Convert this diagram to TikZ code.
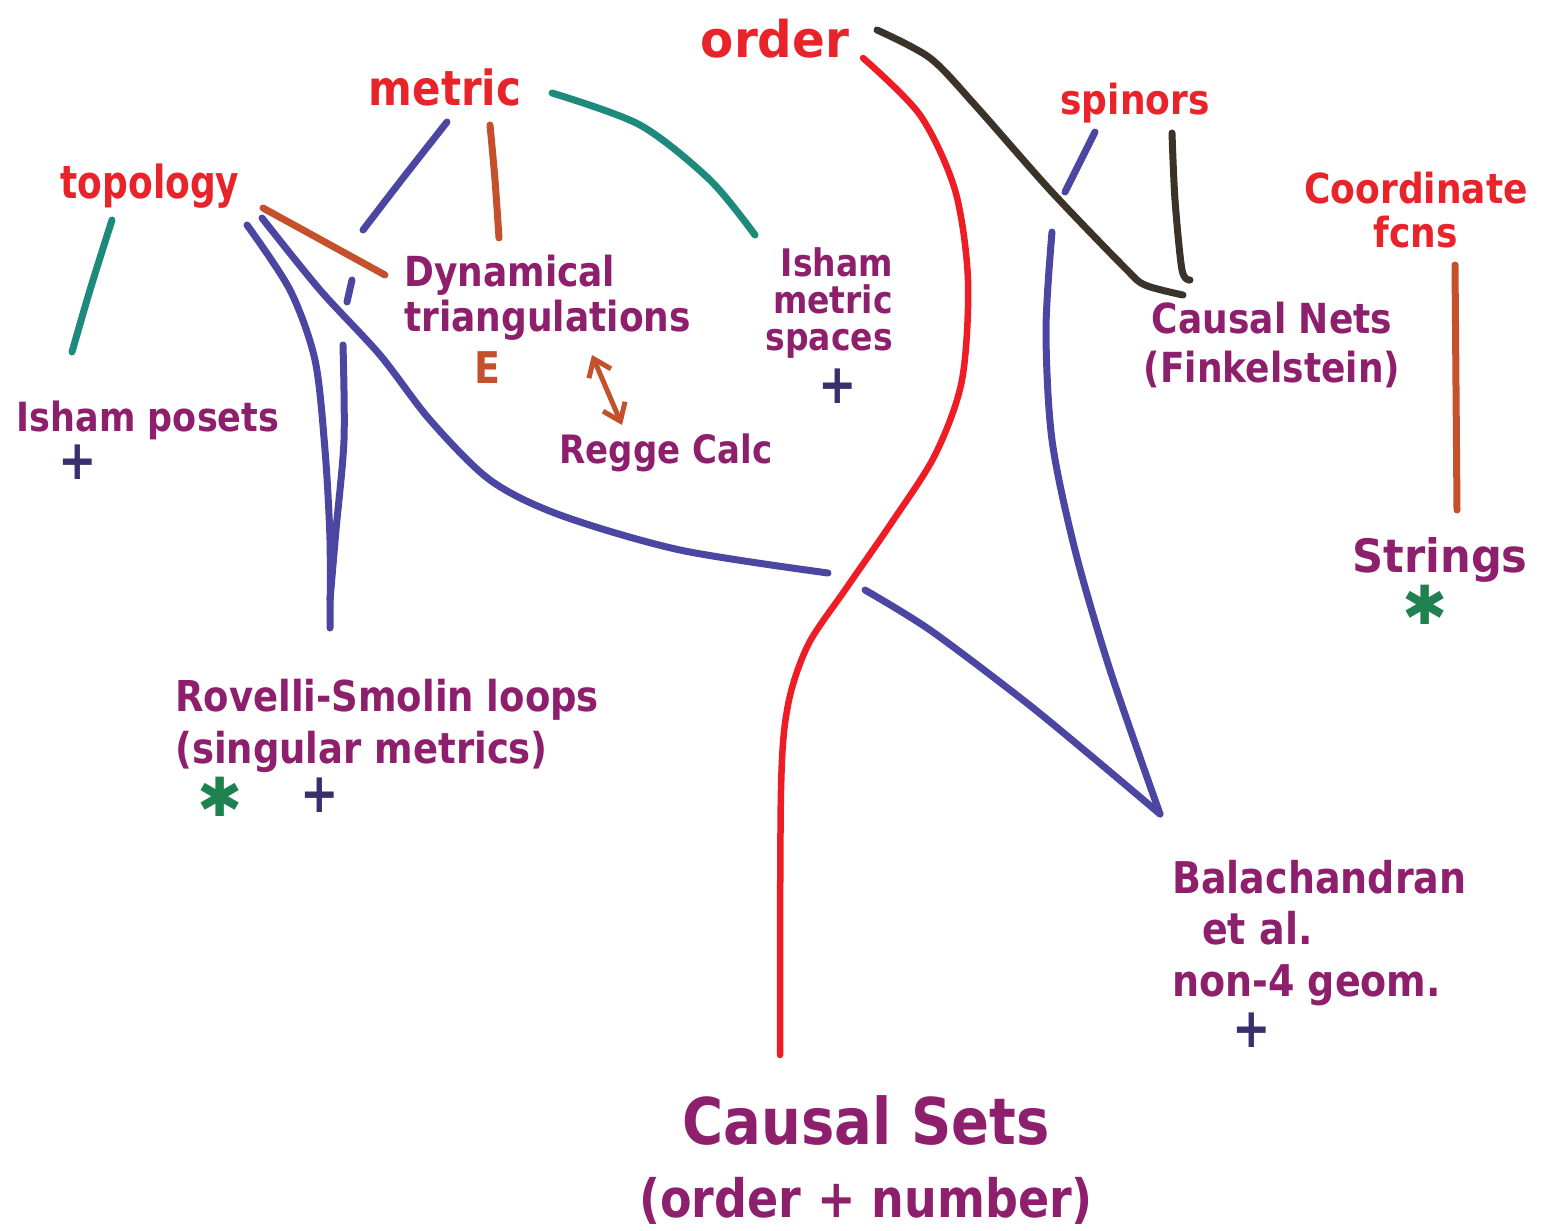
\documentclass[tikz,border=0pt]{standalone}
\usepackage{fontspec}
\setmainfont{DejaVu Sans}
\usetikzlibrary{arrows.meta}
\definecolor{lblred}{HTML}{E8232A}
\definecolor{lblpurple}{HTML}{8E1F6C}
\definecolor{lnblue}{HTML}{4A46A2}
\definecolor{lnteal}{HTML}{1E8A7C}
\definecolor{lnorange}{HTML}{C4512C}
\definecolor{lnbrown}{HTML}{3B3229}
\definecolor{lnred}{HTML}{EE1D25}
\definecolor{mknavy}{HTML}{3A2F6C}
\definecolor{mkgreen}{HTML}{1F8050}
\tikzset{
  redlbl/.style={text=lblred, inner sep=0pt, yscale=1.15},
  purlbl/.style={text=lblpurple, inner sep=0pt, yscale=1.15},
  pen/.style={line width=7pt, line cap=round, line join=round},
  penblue/.style={pen, draw=lnblue},
  penteal/.style={pen, draw=lnteal},
  penorange/.style={pen, draw=lnorange},
  penbrown/.style={pen, draw=lnbrown},
  penred/.style={pen, draw=lnred, line width=6.5pt},
  plusmark/.style={text=mknavy, inner sep=0pt, yscale=1.2, font=\fontsize{46}{46}\selectfont\bfseries},
  starmark/.style={text=mkgreen, inner sep=0pt, font=\fontsize{54}{54}\selectfont},
}
\begin{document}
\begin{tikzpicture}[x=1pt,y=-1pt]
\useasboundingbox[fill=white] (0,0) rectangle (1545,1231);

% ---- labels ----
\node[redlbl, font=\fontsize{44}{44}\selectfont\bfseries, xscale=1.1] (order) at (775,39) {order};
\node[redlbl, font=\fontsize{42}{42}\selectfont\bfseries] (metric) at (445,87) {metric};
\node[redlbl, font=\fontsize{36}{36}\selectfont\bfseries, yscale=1.1] (topology) at (150,186) {topology};
\node[redlbl, font=\fontsize{36}{36}\selectfont\bfseries] (spinors) at (1135,103) {spinors};
\node[redlbl, font=\fontsize{36}{39}\selectfont\bfseries, align=center] (coord) at (1416,210) {Coordinate\\fcns};

\node[purlbl, font=\fontsize{36}{39}\selectfont\bfseries, align=left, anchor=west] (dyn) at (404,298) {Dynamical\\triangulations};
\node[text=lnorange, inner sep=0pt, yscale=1.15, font=\fontsize{38}{38}\selectfont\bfseries] (E) at (487,368) {E};
\node[purlbl, font=\fontsize{34}{34}\selectfont\bfseries] (regge) at (666,453) {Regge Calc};
\node[purlbl, font=\fontsize{33}{32}\selectfont\bfseries, align=right, anchor=east] (ishmet) at (893,303) {Isham\\metric\\spaces};
\node[plusmark] (plusA) at (838,386) {+};
\node[purlbl, font=\fontsize{35}{35}\selectfont\bfseries] (ishpos) at (148,420) {Isham posets};
\node[plusmark] (plusB) at (78,462) {+};
\node[purlbl, font=\fontsize{36}{42}\selectfont\bfseries, align=center] (nets) at (1272,345) {Causal Nets\\(Finkelstein)};
\node[purlbl, font=\fontsize{40}{40}\selectfont\bfseries, xscale=1.08] (strings) at (1440,560) {Strings};
\node[starmark] (starA) at (1425,605) {✱};
\node[purlbl, font=\fontsize{37}{45}\selectfont\bfseries, align=left, anchor=west] (rovelli) at (175,726) {Rovelli-Smolin loops\\(singular metrics)};
\node[starmark] (starB) at (220,797) {✱};
\node[plusmark] (plusC) at (320,795) {+};
\node[purlbl, font=\fontsize{38}{45}\selectfont\bfseries, align=left, anchor=west] (bala) at (1172,933) {Balachandran\\\hspace{30pt}et al.\\non-4 geom.};
\node[plusmark] (plusD) at (1252,1030) {+};
\node[purlbl, font=\fontsize{46}{63}\selectfont\bfseries, align=center] (csets) at (866,1160) {{\fontsize{56}{63}\selectfont\bfseries Causal Sets}\\(order + number)};

% ---- connector end points ----
\coordinate (t1) at (112,220); \coordinate (t1e) at (72,352);
\coordinate (t2) at (263,208); \coordinate (t2e) at (385,275);
\coordinate (bA) at (247,225); \coordinate (bAe) at (330,628);
\coordinate (bB) at (262,218); \coordinate (bBe) at (828,573);
\coordinate (bC) at (352,280); \coordinate (bCe) at (347,302);
\coordinate (bD) at (343,345); \coordinate (bDe) at (330,600);
\coordinate (m1) at (447,122); \coordinate (m1e) at (363,230);
\coordinate (m2) at (490,125); \coordinate (m2e) at (499,238);
\coordinate (m3) at (552,93);  \coordinate (m3e) at (755,235);
\coordinate (o1) at (863,58);  \coordinate (o1e) at (780,1055);
\coordinate (o2) at (877,30);  \coordinate (o2e) at (1183,295);
\coordinate (s1) at (1172,133); \coordinate (s1e) at (1190,280);
\coordinate (s2) at (1095,132); \coordinate (s2e) at (1065,192);
\coordinate (r1) at (1052,232); \coordinate (apex) at (1160,814);
\coordinate (r2) at (865,590);
\coordinate (c1) at (1455,265); \coordinate (c1e) at (1457,510);
\coordinate (ar1) at (592,355); \coordinate (ar2) at (622,425);

% ---- connectors ----
\draw[penteal] plot[smooth] coordinates {(t1) (90,290) (t1e)};
\draw[penorange] (t2) -- (t2e);
\draw[penblue] plot[smooth] coordinates {(bA) (290,290) (315,360) (325,450) (330,540) (bAe)};
\draw[penblue] plot[smooth] coordinates {(bB) (320,290) (380,355) (430,420) (490,480) (560,515) (680,550) (bBe)};
\draw[penblue] (bC) -- (bCe);
\draw[penblue] plot[smooth] coordinates {(bD) (344,440) (336,530) (bDe)};
\draw[penblue] plot[smooth] coordinates {(m1) (403,178) (m1e)};
\draw[penorange] plot[smooth] coordinates {(m2) (495,180) (m2e)};
\draw[penteal] plot[smooth] coordinates {(m3) (640,125) (710,180) (m3e)};
\draw[penred] plot[smooth] coordinates {(o1) (920,115) (955,190) (968,280) (962,380) (935,455) (890,525) (845,590) (808,645) (788,705) (781,790) (o1e)};
\draw[penbrown] plot[smooth, tension=0.5] coordinates {(o2) (930,58) (975,105) (1050,190) (1125,268) (1145,285) (o2e)};
\draw[penbrown] plot[smooth] coordinates {(s1) (1175,200) (1182,270) (s1e)};
\draw[penblue] (s2) -- (s2e);
\draw[penblue] plot[smooth] coordinates {(r1) (1046,330) (1052,440) (1075,550) (1110,670) (apex)};
\draw[penblue] plot[smooth] coordinates {(r2) (930,630) (1023,700) (1090,755) (apex)};
\draw[penorange] (c1) -- (c1e);
\draw[pen, draw=lnorange, line width=5pt, {Straight Barb[length=16pt,width=24pt]}-{Straight Barb[length=16pt,width=24pt]}] (ar1) -- (ar2);
\end{tikzpicture}
\end{document}
